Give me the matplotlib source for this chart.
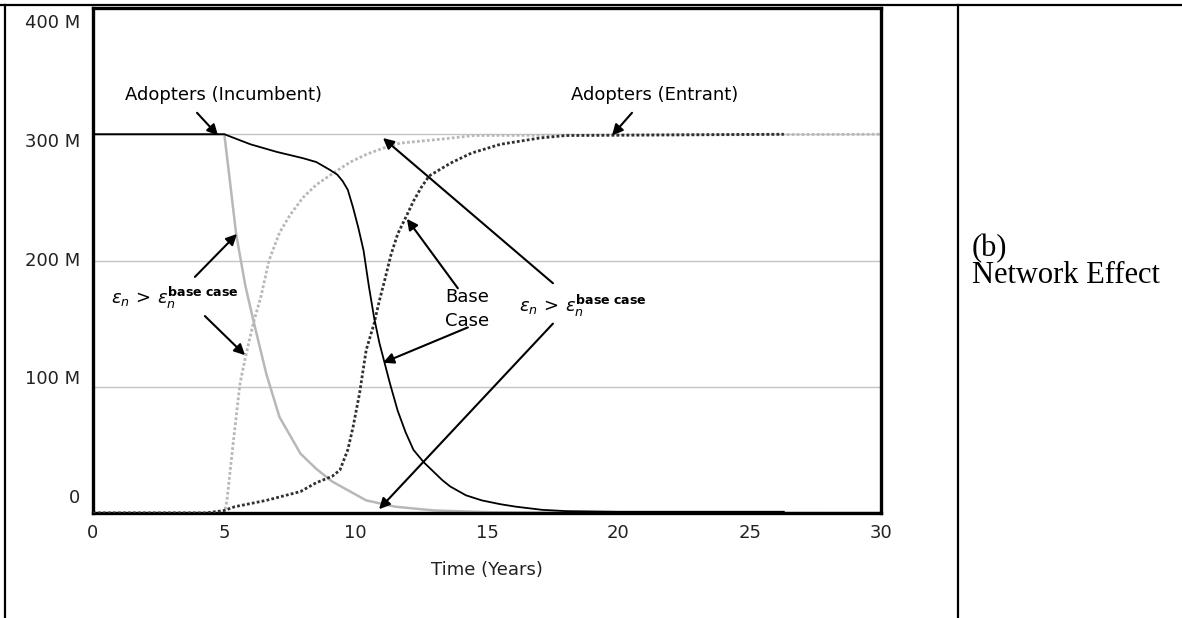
import matplotlib
matplotlib.use("Agg")

import numpy as np
import matplotlib.pyplot as plt
from matplotlib.lines import Line2D

# values in millions of adopters
tIncBase = [0, 5, 5.5, 6, 7, 8, 8.5, 9, 9.3, 9.5, 9.7, 9.9, 10.1, 10.3, 10.5, 10.7, 10.9,
            11.1, 11.3, 11.6, 11.9, 12.2, 12.6, 12.9, 13.3, 13.6, 14.2, 14.8, 15.5, 16.1,
            17.1, 18, 20, 26.3]
incBase = [300, 300, 296, 292, 286, 281, 278, 272, 268, 263, 256, 242, 226, 208, 180, 155, 135,
           119, 103, 81, 64, 50, 40, 34, 26, 21, 14, 10, 7, 5,
           2.5, 1.5, 1, 1]

tEntBase = [0, 4.3, 5, 5.4, 6.6, 7.9, 8.5, 9.1, 9.4, 9.7, 9.9, 10.15, 10.4, 10.7, 10.9, 11.1,
            11.35, 11.6, 11.95, 12.2, 12.5, 12.8, 13.6, 14.4, 15.5, 17, 18, 26.3]
entBase = [0, 0, 2, 5, 10, 17, 24, 29, 34, 50, 68, 95, 129, 150, 168, 184,
           205, 221, 236, 247, 258, 267, 277, 285, 292, 297, 299, 300]

tIncHigh = [0, 5, 5.2, 5.45, 5.8, 6.1, 6.6, 7.1, 7.9, 8.5, 9.1, 10.4, 11.5, 13, 15, 17, 20, 30]
incHigh = [300, 300, 265, 221, 180, 153, 110, 76, 47, 35, 25, 10, 5, 2, 0.7, 0.3, 0.1, 0]

tEntHigh = [0, 5, 5.1, 5.35, 5.6, 5.8, 6.1, 6.4, 6.7, 7.1, 7.5, 8.0, 8.5, 9.2, 9.8, 10.4,
            11.05, 11.7, 13.2, 14.5, 30]
entHigh = [0, 0, 10, 58, 103, 123, 150, 172, 200, 222, 236, 250, 260, 270, 278, 284,
           289, 293, 296, 299, 300]

yTicks = [0, 100, 200, 300, 400]
yTickLabels = ['0', '100 M', '200 M', '300 M', '400 M']
xTicks = [0, 5, 10, 15, 20, 25, 30]

W, H = 1182, 618
fig = plt.figure(figsize=(W / 100, H / 100), dpi=100)

# table cell lines round the chart
fig.add_artist(Line2D([0, 1], [1 - 5 / H, 1 - 5 / H], color='black', lw=1.6))
fig.add_artist(Line2D([5 / W, 5 / W], [0, 1 - 5 / H], color='black', lw=1.6))
fig.add_artist(Line2D([958 / W, 958 / W], [0, 1 - 5 / H], color='black', lw=1.6))

fig.text(972 / W, 1 - 262 / H, '(b)\nNetwork Effect', family='Liberation Serif',
         fontsize=22, ha='left', va='center', linespacing=0.9)

ax = fig.add_axes([93 / W, 1 - 513 / H, (881 - 93) / W, (513 - 8) / H])
ax.set_xlim(0, 30)
ax.set_ylim(0, 400)

for v in yTicks[1:4]:
    ax.axhline(v, color='#c4c4c4', lw=1.0, zorder=1)

ax.plot(tIncHigh, incHigh, color='#b8b8b8', lw=1.8, zorder=2)
ax.plot(tEntHigh, entHigh, color='#b8b8b8', lw=2.0, ls=(0, (1, 0.8)), zorder=2)
ax.plot(tEntBase, entBase, color='#303030', lw=2.0, ls=(0, (1, 0.8)), zorder=3)
ax.plot(tIncBase, incBase, color='black', lw=1.3, zorder=4)

for s in ax.spines.values():
    s.set_linewidth(2.4)
    s.set_color('black')

ax.set_xticks(xTicks)
ax.set_xticklabels([str(x) for x in xTicks])
ax.set_yticks([])
ax.tick_params(axis='x', length=0, pad=8, labelsize=13, labelcolor='#222222')

# Vensim style y labels, spread evenly along the axis
for i, lab in enumerate(yTickLabels):
    ax.text(-0.0165, 0.03 + i * 0.235, lab, transform=ax.transAxes, ha='right',
            va='center', fontsize=13, color='#222222')

ax.text(0.5, -0.113, 'Time (Years)', transform=ax.transAxes, ha='center', va='center',
        fontsize=13, color='#222222')

arrow = dict(arrowstyle='-|>', color='black', lw=1.5, mutation_scale=16, shrinkA=0, shrinkB=0)
epsLabel = r'$\varepsilon_n\,>\,\varepsilon_n^{\mathbf{base\ case}}$'

ax.text(4.95, 331, 'Adopters (Incumbent)', ha='center', va='center', fontsize=13)
ax.annotate('', xy=(4.76, 299), xytext=(3.96, 317), arrowprops=arrow)

ax.text(21.4, 331, 'Adopters (Entrant)', ha='center', va='center', fontsize=13)
ax.annotate('', xy=(19.76, 299), xytext=(20.52, 317), arrowprops=arrow)

ax.text(3.12, 170, epsLabel, ha='center', va='center', fontsize=13)
ax.annotate('', xy=(5.48, 221), xytext=(3.88, 187), arrowprops=arrow)
ax.annotate('', xy=(5.79, 125), xytext=(4.26, 156), arrowprops=arrow)

ax.text(13.4, 171, 'Base', ha='left', va='center', fontsize=13)
ax.text(13.4, 152, 'Case', ha='left', va='center', fontsize=13)
ax.annotate('', xy=(11.95, 233), xytext=(13.89, 178), arrowprops=arrow)
ax.annotate('', xy=(11.04, 119), xytext=(14.27, 147), arrowprops=arrow)

ax.text(18.65, 164, epsLabel, ha='center', va='center', fontsize=13)
ax.annotate('', xy=(11.04, 297), xytext=(17.51, 182), arrowprops=arrow)
ax.annotate('', xy=(10.89, 3), xytext=(17.51, 150), arrowprops=arrow)

fig.savefig('out.png', dpi=100)
